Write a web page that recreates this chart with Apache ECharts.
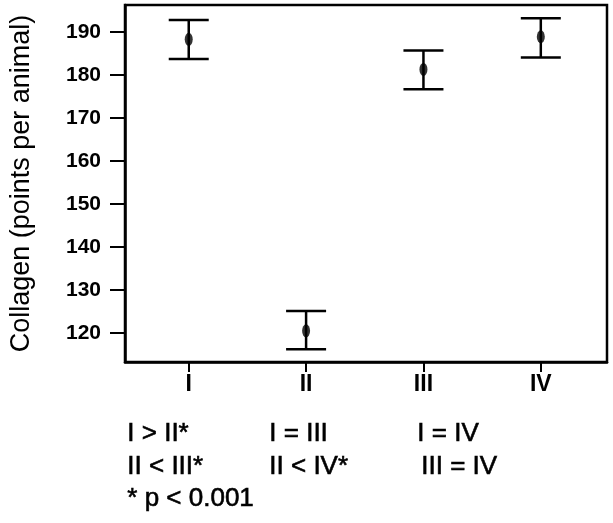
<!DOCTYPE html>
<html>
<head>
<meta charset="utf-8">
<script src="https://cdn.jsdelivr.net/npm/echarts@6/dist/echarts.min.js"></script>
<style>
  html, body { margin: 0; padding: 0; background: #fff; }
  #chart { width: 613px; height: 523px; }
</style>
</head>
<body>
<div id="chart"></div>
<script>
// Collagen content per group: mean with upper/lower error limits
const groups = ['I', 'II', 'III', 'IV'];
const means = [188.3, 120.5, 181.3, 188.9];
const upper = [192.8, 125.1, 185.7, 193.2];
const lower = [183.7, 116.2, 176.7, 184.1];
const yTicks = [120, 130, 140, 150, 160, 170, 180, 190];

// Pairwise comparison notes printed under the plot
const notes = [
  ['I > II*', 'I = III', 'I = IV'],
  ['II < III*', 'II < IV*', 'III = IV'],
  ['* p < 0.001']
];

const groupPos = groups.map((g, i) => i + 1);

const chart = echarts.init(document.getElementById('chart'), null, { renderer: 'canvas' });

const errData = groupPos.map((x, i) => [x, lower[i], upper[i]]);
const meanData = groupPos.map((x, i) => [x, means[i]]);

const noteFont = '26px "Liberation Sans", Arial, sans-serif';
const colX = [[127, 269, 417], [127, 269, 421], [127]];
const rowY = [436, 469, 501];
const noteGraphics = [];
notes.forEach((row, r) => {
  row.forEach((txt, c) => {
    noteGraphics.push({
      type: 'text',
      left: colX[r][c],
      top: rowY[r] - 15,
      style: { text: txt, font: noteFont, fill: '#000', stroke: '#000', lineWidth: 0.6 }
    });
  });
});

chart.setOption({
  animation: false,
  backgroundColor: '#fff',
  grid: {
    left: 117, top: 5, width: 490, height: 357,
    show: true, borderColor: '#000', borderWidth: 2.5, backgroundColor: 'transparent'
  },
  xAxis: {
    type: 'value',
    min: 0.457, max: 4.564,
    splitLine: { show: false },
    axisLine: { show: true, onZero: false, lineStyle: { color: '#000', width: 2.5 } },
    axisTick: { show: true, length: 10, lineStyle: { color: '#000', width: 2 }, customValues: groupPos },
    axisLabel: {
      customValues: groupPos,
      formatter: v => groups[Math.round(v) - 1] || '',
      margin: 11,
      color: '#000',
      fontSize: 23,
      fontWeight: 'bold',
      fontFamily: '"Liberation Sans Narrow", "Liberation Sans", Arial, sans-serif'
    }
  },
  yAxis: {
    type: 'value',
    min: 113.26, max: 196.28,
    name: 'Collagen (points per animal)',
    nameLocation: 'middle',
    nameGap: 90,
    nameRotate: 90,
    nameTextStyle: { color: '#000', fontSize: 27, fontFamily: '"Liberation Sans", Arial, sans-serif' },
    splitLine: { show: false },
    axisLine: { show: true, onZero: false, lineStyle: { color: '#000', width: 2.5 } },
    axisTick: { show: true, length: 15, lineStyle: { color: '#000', width: 2 }, customValues: yTicks },
    axisLabel: {
      customValues: yTicks,
      margin: 24,
      color: '#000',
      fontSize: 21,
      fontWeight: 'bold',
      fontFamily: '"Liberation Sans Narrow", "Liberation Sans", Arial, sans-serif'
    }
  },
  series: [
    {
      type: 'custom',
      data: errData,
      renderItem: function (params, api) {
        const x = api.value(0);
        const lo = api.coord([x, api.value(1)]);
        const hi = api.coord([x, api.value(2)]);
        const half = 20;
        const style = { stroke: '#000', lineWidth: 2.5 };
        return {
          type: 'group',
          children: [
            { type: 'line', shape: { x1: lo[0], y1: lo[1], x2: hi[0], y2: hi[1] }, style: style },
            { type: 'line', shape: { x1: hi[0] - half, y1: hi[1], x2: hi[0] + half, y2: hi[1] }, style: style },
            { type: 'line', shape: { x1: lo[0] - half, y1: lo[1], x2: lo[0] + half, y2: lo[1] }, style: style }
          ]
        };
      },
      z: 2
    },
    {
      type: 'scatter',
      data: meanData,
      symbol: 'circle',
      symbolSize: [8, 13],
      itemStyle: { color: '#000' },
      z: 3
    }
  ],
  graphic: noteGraphics
});
</script>
</body>
</html>
